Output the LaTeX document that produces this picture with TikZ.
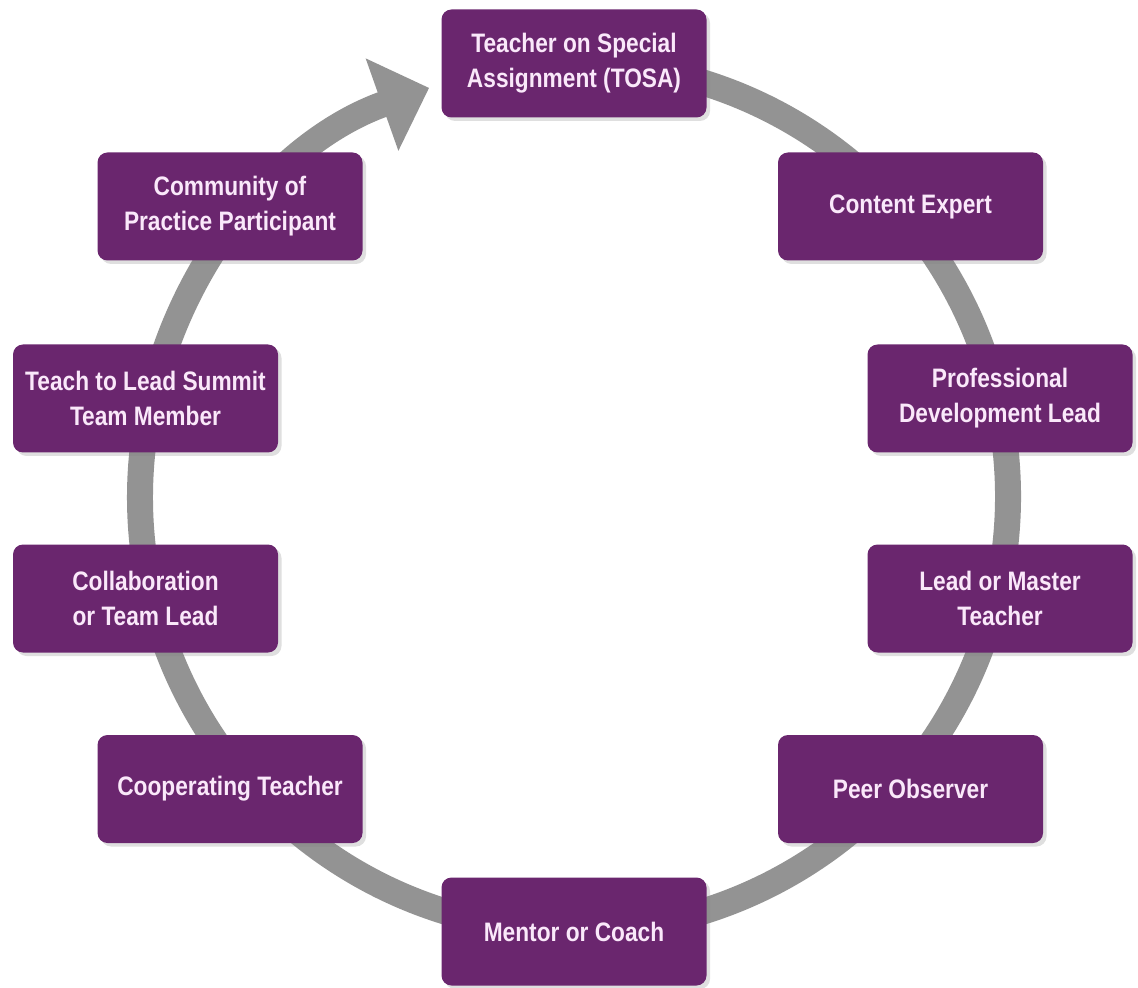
\documentclass[tikz,border=0pt]{standalone}
\usepackage{fontspec}
\newfontfamily\boxfont{Liberation Sans}[FakeStretch=0.85]
\usetikzlibrary{arrows.meta,shadows}
\definecolor{rolepurple}{RGB}{106,38,110}
\definecolor{roletext}{RGB}{250,232,250}
\definecolor{ringgray}{RGB}{147,147,147}
\tikzset{
  rolebox/.style={draw=none, fill=rolepurple, rounded corners=0.1cm,
    minimum width=2.65cm, minimum height=1.08cm, inner sep=0pt,
    align=center, text=roletext,
    font=\boxfont\bfseries\fontsize{7.6}{10}\selectfont,
    drop shadow={shadow xshift=0.035cm, shadow yshift=-0.035cm, opacity=0.25}},
  ring/.style={draw=ringgray, line width=0.26cm,
    -{Triangle[length=0.5cm, width=0.95cm]}}
}
\begin{document}
\begin{tikzpicture}
\useasboundingbox (0,0) rectangle (11.38,9.87);
\coordinate (c) at (5.74,4.90);
% cycle ring, running clockwise and ending in an arrow at the top
\draw[ring] (c) ++(85:4.34) arc[start angle=85, end angle=-250.5, radius=4.34];
% role boxes
\node[rolebox] (tosa)   at (5.74,9.235)  {Teacher on Special\\Assignment (TOSA)};
\node[rolebox] (expert) at (9.105,7.805) {Content Expert};
\node[rolebox] (pdl)    at (10.00,5.885) {Professional\\Development Lead};
\node[rolebox] (master) at (10.00,3.885) {Lead or Master\\Teacher};
\node[rolebox] (peer)   at (9.105,1.98)  {Peer Observer};
\node[rolebox] (mentor) at (5.74,0.555)  {Mentor or Coach};
\node[rolebox] (coop)   at (2.30,1.98)   {Cooperating Teacher};
\node[rolebox] (collab) at (1.455,3.885) {Collaboration\\or Team Lead};
\node[rolebox] (summit) at (1.455,5.885) {Teach to Lead Summit\\Team Member};
\node[rolebox] (cop)    at (2.30,7.805)  {Community of\\Practice Participant};
\end{tikzpicture}
\end{document}
